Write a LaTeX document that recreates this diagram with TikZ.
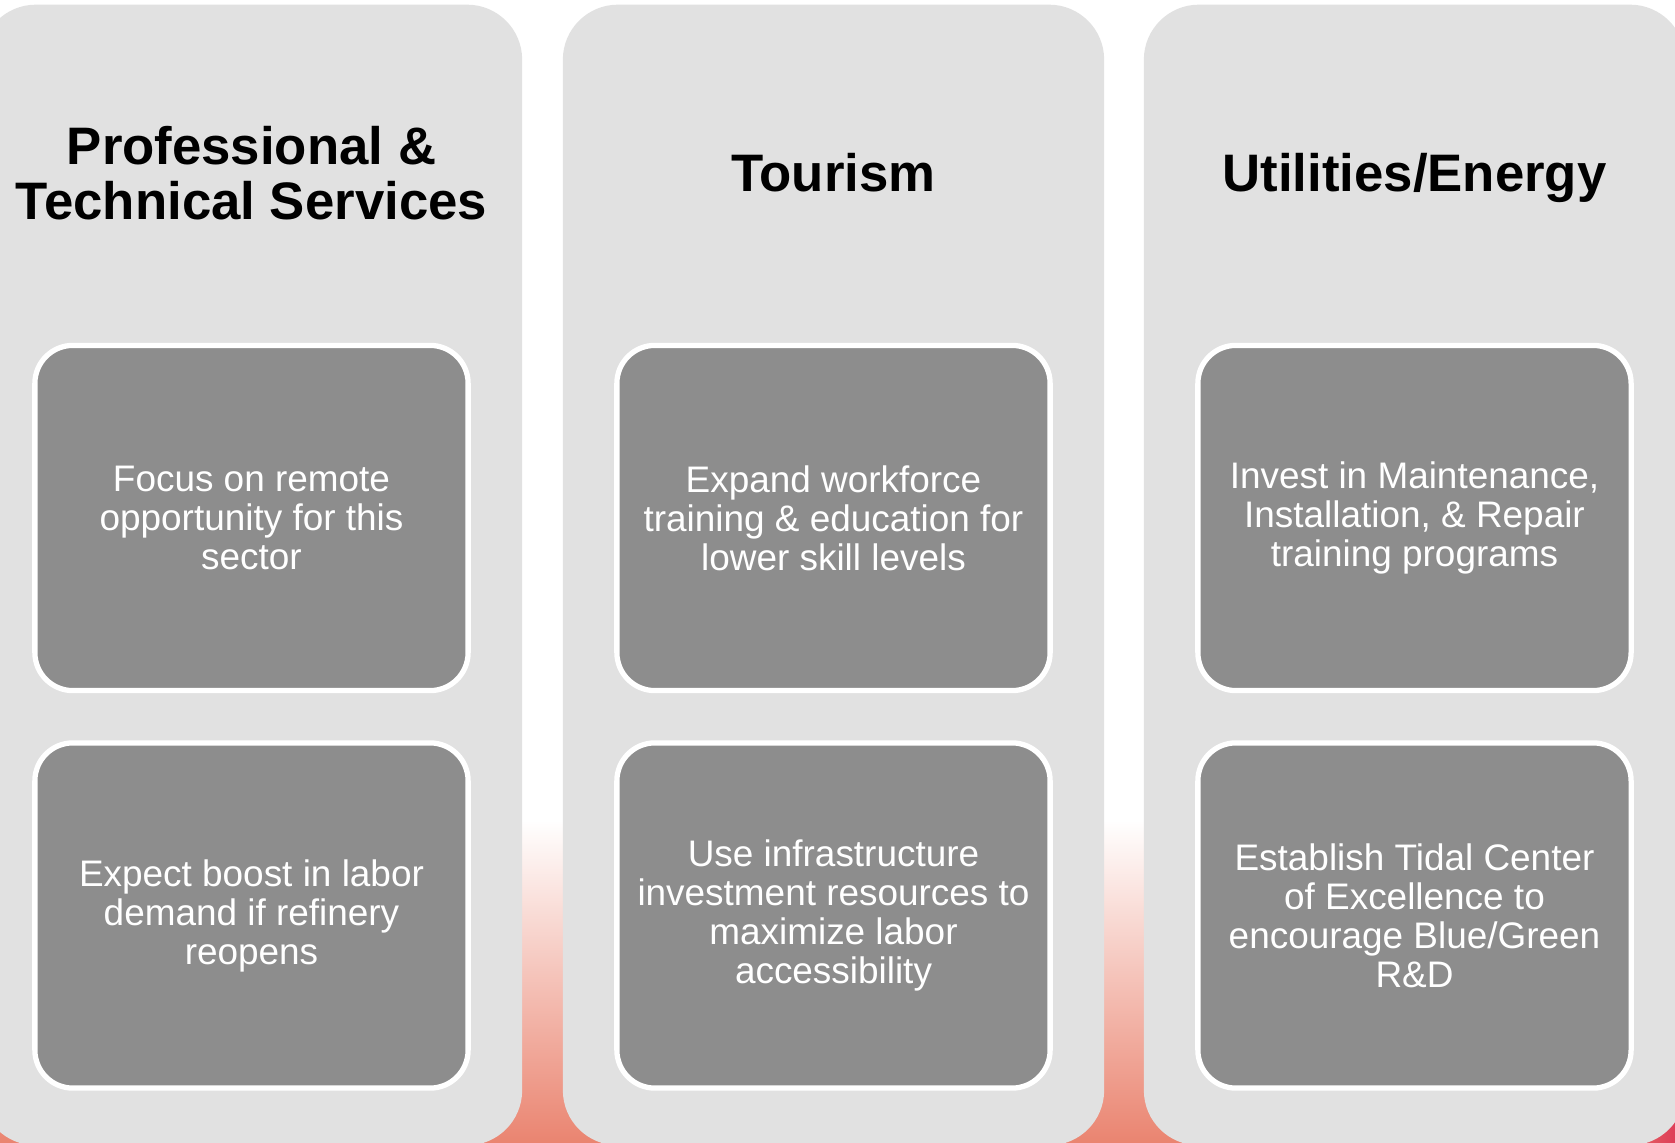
\documentclass[tikz,border=0pt]{standalone}
\usepackage{fontspec}
\setmainfont{Liberation Sans}
\usepackage{tikz}
\usetikzlibrary{positioning}
\definecolor{colbg}{RGB}{225,225,225}
\definecolor{cardfill}{RGB}{141,141,141}
\definecolor{salmon}{RGB}{234,132,112}
\definecolor{blush}{RGB}{251,222,214}
\definecolor{rose}{RGB}{222,62,88}
\tikzset{
    column/.style={rectangle, rounded corners=0.55cm, minimum width=5.41cm, minimum height=11.4cm, fill=colbg, inner sep=0pt},
    heading/.style={anchor=north, align=center, inner sep=0pt, font=\fontsize{15pt}{15.5pt}\selectfont\bfseries},
    card/.style={rectangle, rounded corners=0.38cm, minimum width=4.33cm, minimum height=3.45cm, draw=white, line width=1.5pt, fill=cardfill, text=white, align=center, font=\fontsize{10.5pt}{11.1pt}\selectfont}
}

\begin{document}
\begin{tikzpicture}[x=0.01cm, y=-0.01cm]
    \useasboundingbox (0,0) rectangle (1675,1143);
    % Background - white fading to salmon at the bottom
    \fill[white] (0,0) rectangle (1675,1143);
    \shade[top color=white, middle color=blush, bottom color=salmon] (0,820) rectangle (1675,1143);
    \shade[left color=salmon, right color=rose] (1600,1080) rectangle (1675,1143);

    % Columns
    \node (colpro) [column] at (251.5,575) {};
    \node (coltour) [column] at (833.5,575) {};
    \node (colutil) [column] at (1414.5,575) {};

    % Headings
    \node (hpro) [heading] at (251.5,126) {Professional \&\\Technical Services};
    \node (htour) [heading] at (833.5,153) {Tourism};
    \node (hutil) [heading] at (1414.5,153) {Utilities/Energy};

    % Cards - Professional & Technical Services
    \node (pro1) [card] at (251.5,518) {Focus on remote\\opportunity for this\\sector};
    \node (pro2) [card, below=0.47cm of pro1] {Expect boost in labor\\demand if refinery\\reopens};

    % Cards - Tourism
    \node (tour1) [card] at (833.5,518) {Expand workforce\\training \& education for\\lower skill levels};
    \node (tour2) [card, below=0.47cm of tour1] {Use infrastructure\\investment resources to\\maximize labor\\accessibility};

    % Cards - Utilities/Energy
    \node (util1) [card] at (1414.5,518) {Invest in Maintenance,\\Installation, \& Repair\\training programs};
    \node (util2) [card, below=0.47cm of util1] {Establish Tidal Center\\of Excellence to\\encourage Blue/Green\\R\&D};
\end{tikzpicture}
\end{document}
